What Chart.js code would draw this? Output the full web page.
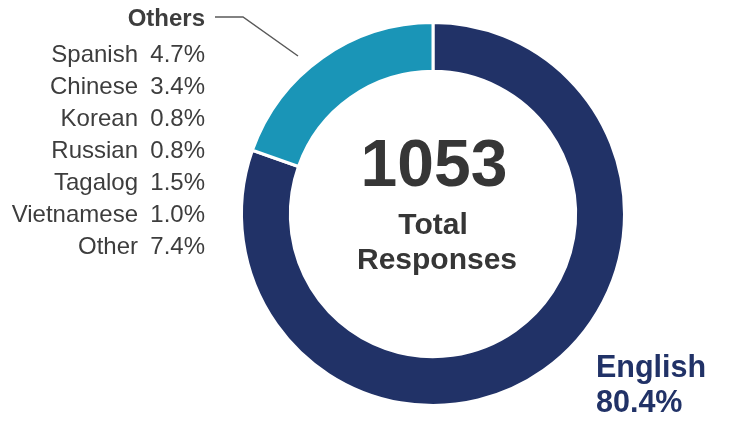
<!DOCTYPE html>
<html>
<head>
<meta charset="utf-8">
<script src="https://cdn.jsdelivr.net/npm/chart.js@4"></script>
<style>
  html, body { margin: 0; padding: 0; background: #ffffff; }
  #wrap { width: 730px; height: 421px; position: relative; }
</style>
</head>
<body>
<div id="wrap"><canvas id="c" width="730" height="421"></canvas></div>
<script>
const categories = ['English', 'Others'];
const shares = [80.4, 19.6];
const sliceColors = ['#213267', '#1a95b7'];
const otherLanguages = ['Spanish', 'Chinese', 'Korean', 'Russian', 'Tagalog', 'Vietnamese', 'Other'];
const otherShares = ['4.7%', '3.4%', '0.8%', '0.8%', '1.5%', '1.0%', '7.4%'];
const totalResponses = '1053';
const totalLabel = ['Total', 'Responses'];

const FONT = '"Liberation Sans", Arial, sans-serif';

const annotations = {
  id: 'annotations',
  afterDraw(chart) {
    const ctx = chart.ctx;
    const arc = chart.getDatasetMeta(0).data[0];
    const cx = arc.x, cy = arc.y;
    ctx.save();
    // centre text
    ctx.fillStyle = '#363636';
    ctx.textAlign = 'center';
    ctx.textBaseline = 'alphabetic';
    ctx.font = 'bold 66px ' + FONT;
    ctx.fillText(totalResponses, cx + 1, cy - 28);
    ctx.font = 'bold 30px ' + FONT;
    ctx.fillText(totalLabel[0], cx, cy + 20);
    ctx.fillText(totalLabel[1], cx + 4, cy + 55);

    // English label
    ctx.fillStyle = '#213267';
    ctx.textAlign = 'left';
    ctx.font = 'bold 30.5px ' + FONT;
    ctx.fillText(categories[0], 596, 377);
    ctx.fillText(shares[0].toFixed(1) + '%', 596, 412);

    // Others heading
    ctx.fillStyle = '#3d3d3d';
    ctx.textAlign = 'right';
    ctx.font = 'bold 24px ' + FONT;
    ctx.fillText(categories[1], 205, 26);

    // leader line
    ctx.strokeStyle = '#595959';
    ctx.lineWidth = 1.5;
    ctx.beginPath();
    ctx.moveTo(215, 17);
    ctx.lineTo(243, 17);
    ctx.lineTo(298, 56);
    ctx.stroke();

    // list
    ctx.font = '24px ' + FONT;
    ctx.fillStyle = '#3d3d3d';
    for (let i = 0; i < otherLanguages.length; i++) {
      const y = 62 + i * 32;
      ctx.fillText(otherLanguages[i], 138, y);
      ctx.fillText(otherShares[i], 205, y);
    }
    ctx.restore();
  }
};

new Chart(document.getElementById('c'), {
  type: 'doughnut',
  data: {
    labels: categories,
    datasets: [{
      data: shares,
      backgroundColor: sliceColors,
      borderColor: '#ffffff',
      borderWidth: 3,
      hoverOffset: 0
    }]
  },
  options: {
    responsive: false,
    animation: false,
    cutout: '74.5%',
    rotation: 0,
    layout: { padding: { left: 240, right: 104, top: 21, bottom: 14 } },
    plugins: {
      legend: { display: false },
      tooltip: { enabled: false }
    }
  },
  plugins: [annotations]
});
</script>
</body>
</html>
